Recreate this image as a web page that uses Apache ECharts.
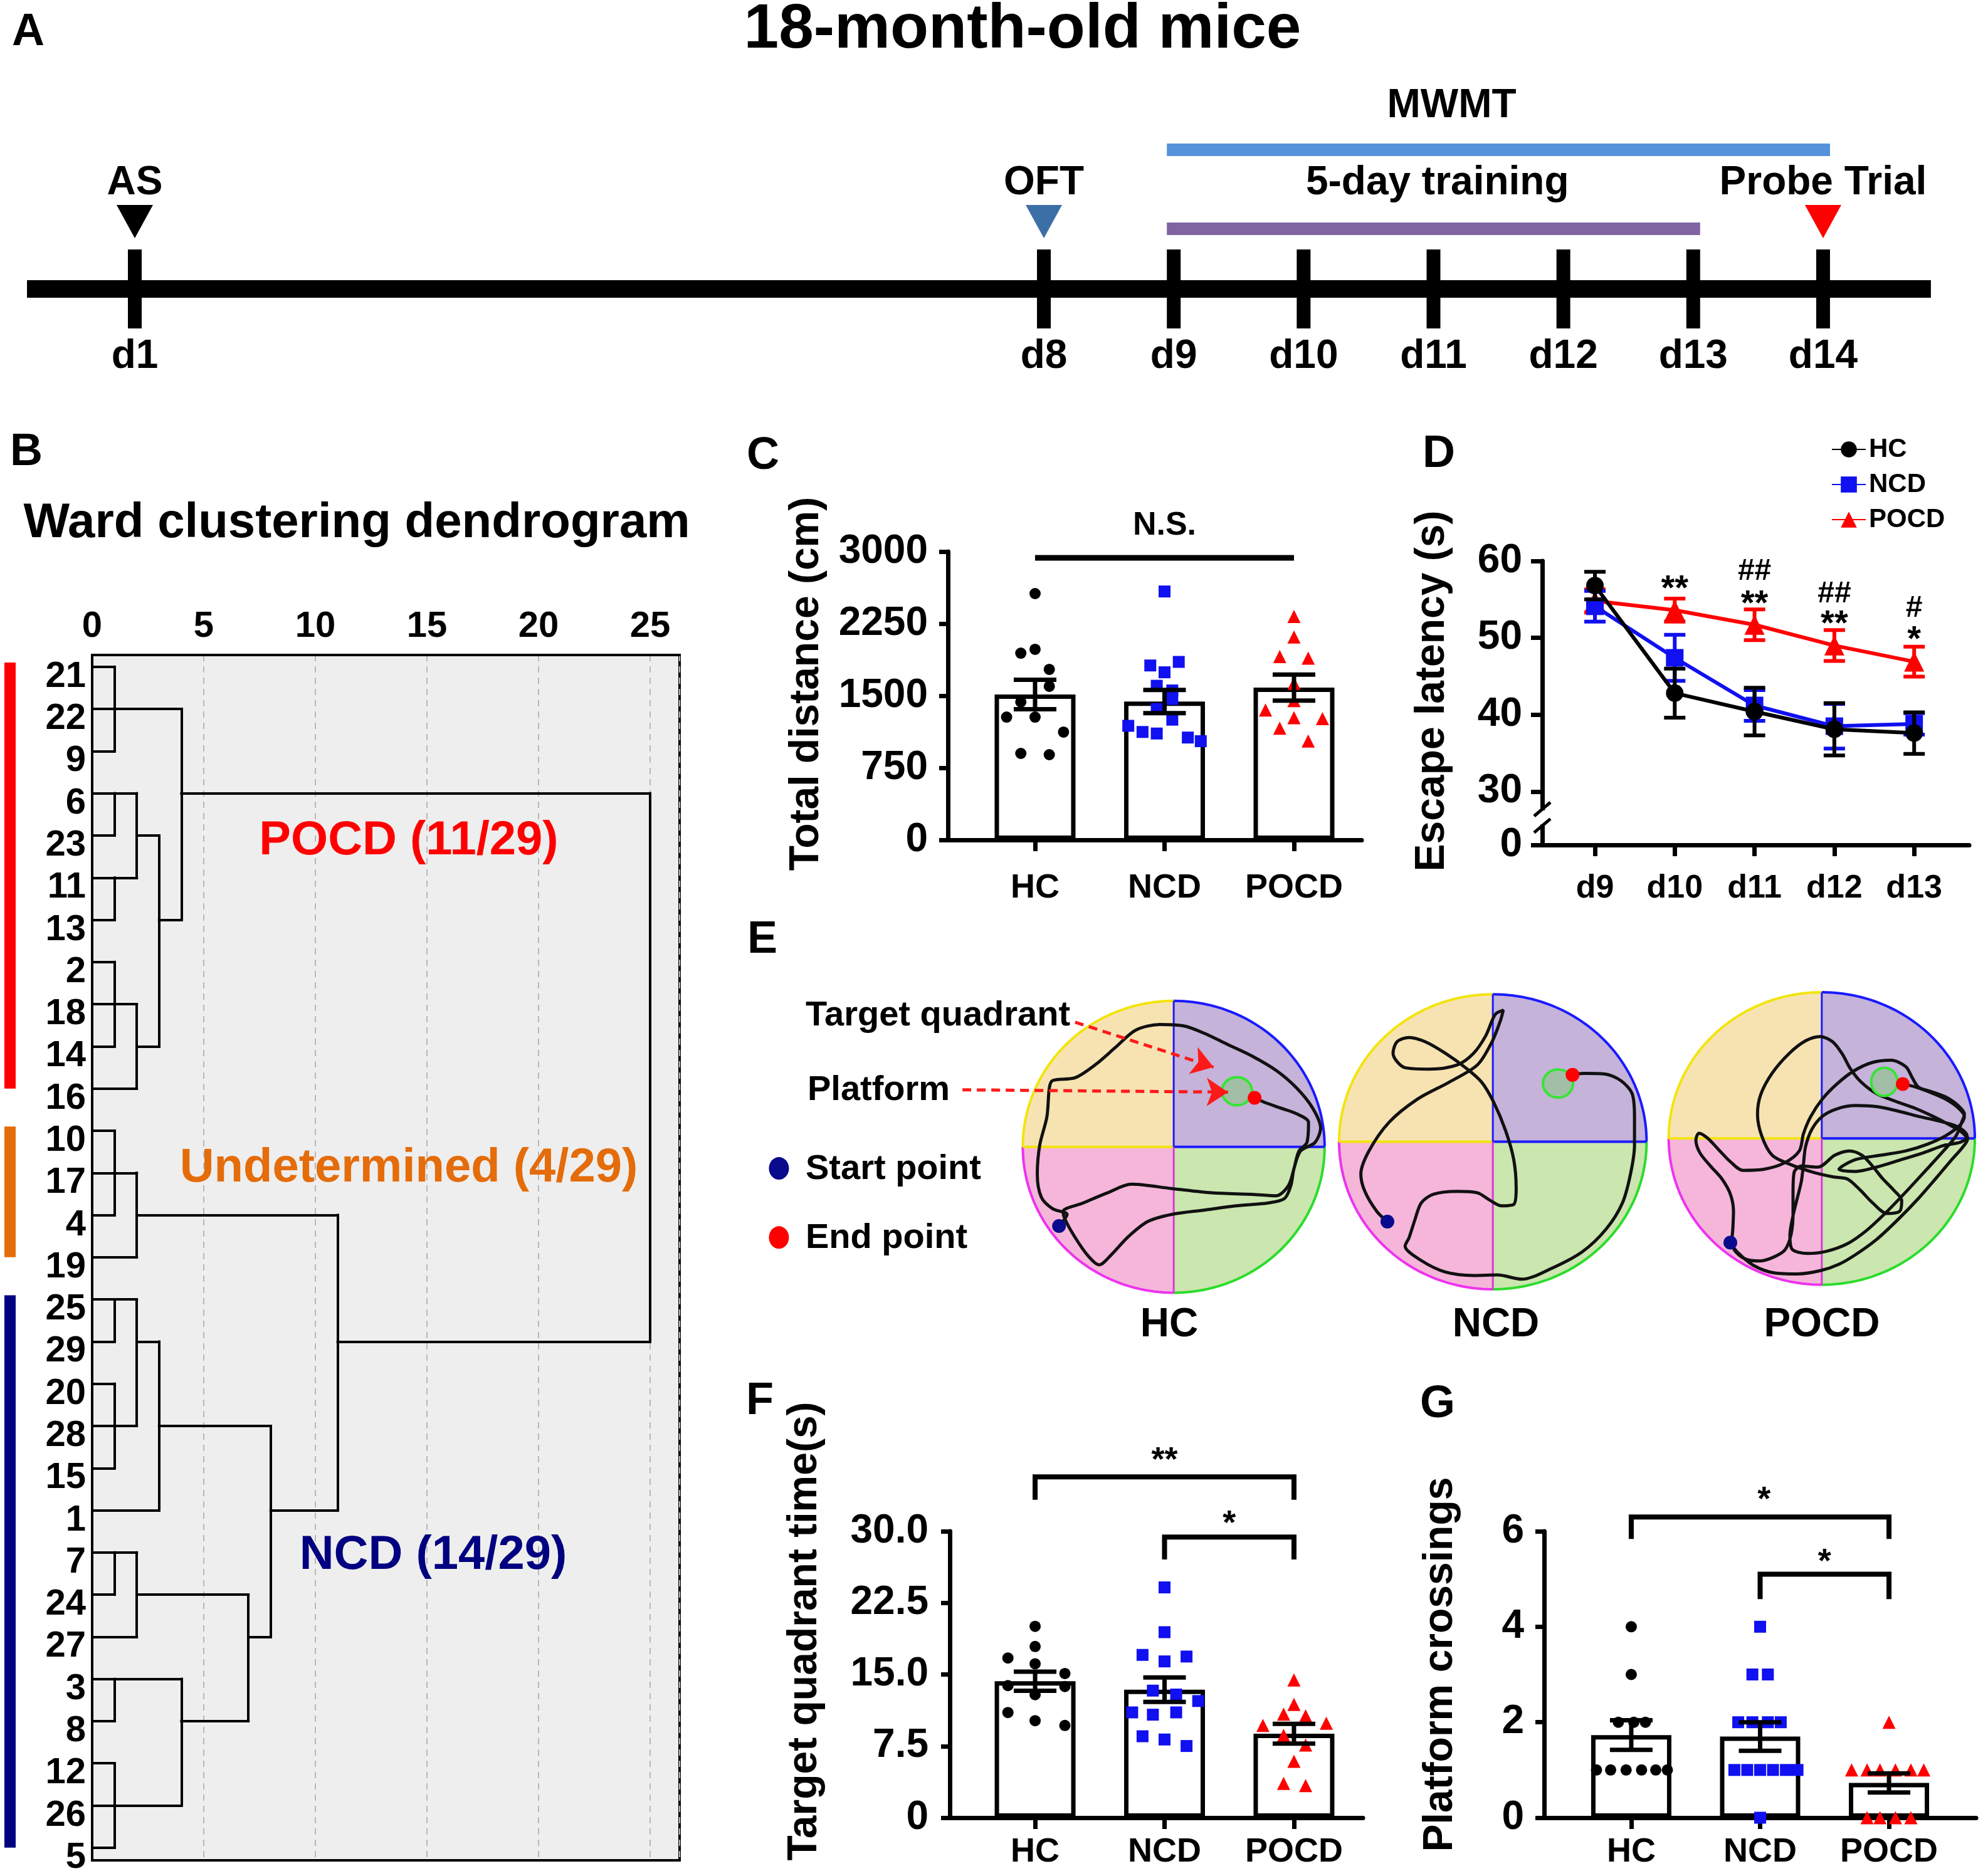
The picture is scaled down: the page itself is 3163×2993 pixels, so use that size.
<!DOCTYPE html>
<html>
<head>
<meta charset="utf-8">
<title>18-month-old mice</title>
<script src="https://cdn.jsdelivr.net/npm/echarts@6.0.0/dist/echarts.min.js"></script>
<style>
html,body{margin:0;padding:0;background:#ffffff;}
#chart{width:3163px;height:2993px;}
</style>
</head>
<body>
<div id="chart"></div>
<script>
const FONT = '"Liberation Sans", Arial, Helvetica, sans-serif';

// ===== Panel A : experimental timeline =====
const timelineDays = [1, 8, 9, 10, 11, 12, 13, 14];
const timelineDayLabels = ['d1', 'd8', 'd9', 'd10', 'd11', 'd12', 'd13', 'd14'];
const timelineSpan = [0.17, 14.83];
const eventNames = ['AS', 'OFT', 'Probe Trial'];
const eventDays = [1, 8, 14];
const phaseNames = ['MWMT', '5-day training'];
const phaseStartDays = [9, 9];
const phaseEndDays = [14, 13];
const phaseLabelDays = [11.14, 11.03];

// ===== Panel B : Ward clustering dendrogram =====
const leafLabels = ['21','22','9','6','23','11','13','2','18','14','16','10','17','4','19','25','29','20','28','15','1','7','24','27','3','8','12','26','5'];
// segments: [distance1, leafRow1, distance2, leafRow2]
const dendroSegments = [
  [0,0,1,0],[0,1,4,1],[0,2,1,2],[1,0,1,2],
  [0,3,2,3],[4,3,25,3],[0,4,1,4],[2,4,3,4],[1,3,1,4],
  [0,5,2,5],[0,6,1,6],[3,6,4,6],[1,5,1,6],[2,3,2,5],
  [0,7,1,7],[0,8,2,8],[0,9,1,9],[2,9,3,9],[0,10,2,10],[1,7,1,9],[2,8,2,10],
  [3,4,3,9],[4,1,4,6],
  [0,11,1,11],[0,12,2,12],[0,13,1,13],[2,13,11,13],[0,14,2,14],[1,11,1,13],[2,12,2,14],
  [11,13,11,20],
  [0,15,2,15],[0,16,1,16],[2,16,3,16],[11,16,25,16],[1,15,1,16],
  [0,17,1,17],[0,18,2,18],[3,18,8,18],[0,19,1,19],[1,17,1,19],[2,15,2,18],
  [0,20,3,20],[8,20,11,20],[3,16,3,20],
  [0,21,2,21],[0,22,1,22],[2,22,7,22],[0,23,2,23],[7,23,8,23],[1,21,1,22],[2,21,2,23],
  [8,18,8,23],
  [0,24,4,24],[0,25,1,25],[4,25,7,25],[1,24,1,25],
  [0,26,1,26],[0,27,4,27],[0,28,1,28],[1,26,1,28],[4,24,4,27],
  [7,22,7,25],
  [25,3,25,16]
];
const clusterNames = ['POCD (11/29)', 'Undetermined (4/29)', 'NCD (14/29)'];
const clusterFirstRow = [0, 11, 15];
const clusterLastRow = [10, 14, 28];

// ===== Shared groups =====
const groups = ['HC', 'NCD', 'POCD'];

// ===== Panel C : total distance (cm) =====
const distMean = [1513, 1440, 1585];
const distSem = [153, 121, 135];
const distHC = [2563, 1983, 1943, 1774, 1598, 1435, 1278, 1278, 1122, 900, 887];
const distHCx = [0, 0, -0.11, 0.11, 0.11, -0.11, -0.22, 0, 0.22, -0.11, 0.11];
const distNCD = [2585, 1852, 1815, 1744, 1604, 1555, 1466, 1362, 1251, 1187, 1123, 1107, 1065, 1027];
const distNCDx = [1, 1.11, 0.89, 1, 0.94, 1.06, 1.06, 0.94, 1.06, 0.72, 0.83, 0.94, 1.18, 1.28];
const distPOCD = [2325, 2111, 1908, 1892, 1629, 1450, 1351, 1271, 1262, 1162, 1028];
const distPOCDx = [2, 2, 1.89, 2.11, 2, 2, 1.78, 2, 2.22, 1.89, 2.11];

// ===== Panel D : escape latency (s) =====
const dayLabels = ['d9', 'd10', 'd11', 'd12', 'd13'];
const latencyHC = [56.8, 42.8, 40.4, 38.1, 37.6];
const latencyHCsem = [1.8, 3.2, 3.1, 3.4, 2.7];
const latencyNCD = [54.1, 47.4, 41.2, 38.5, 38.8];
const latencyNCDsem = [2.0, 3.0, 2.0, 2.9, 1.4];
const latencyPOCD = [54.8, 53.6, 51.7, 49.0, 46.9];
const latencyPOCDsem = [1.5, 1.5, 2.0, 2.0, 1.95];
const latencySigDay = [1, 2, 2, 3, 3, 4, 4];
const latencySigText = ['**', '##', '**', '##', '**', '#', '*'];
const latencySigValue = [57.3, 58.6, 55.3, 55.7, 52.7, 53.8, 50.7];
const latencyBreak = [25.55, 27.7];

// ===== Panel E : representative swim paths (each pool in its tracking-camera frame) =====
// HC and NCD pools share one frame; POCD pool has its own frame.
const poolsHcNcd = [[562.5, 805, 187.5, 507], [959, 787.5, 191, 512.5]];
const platformHcNcd = [[641, 612], [1040, 585]];
const startHcNcd = [[420, 1080], [828, 1065]];
const endHcNcd = [[663, 635], [1058, 555]];
const trackHC = [[420,1080],[430,1040],[412,1020],[398,980],[393,900],[396,800],[405,700],[408,600],[412,575],[440,565],[465,520],[490,460],[515,400],[545,380],[575,385],[600,410],[630,450],[660,490],[690,540],[715,600],[735,670],[745,740],[738,790],[720,820],[712,880],[708,940],[700,985],[680,1000],[640,1010],[600,1025],[560,1040],[530,1065],[505,1120],[485,1180],[470,1215],[455,1180],[440,1120],[428,1060],[425,1030],[450,1000],[480,965],[510,935],[560,950],[610,965],[660,970],[690,975],[705,940],[712,880],[718,820],[728,790],[730,720],[715,690],[695,670],[675,650],[663,635]];
const trackNCD = [[828,1065],[815,1030],[800,960],[795,900],[805,820],[830,720],[865,640],[905,580],[940,520],[958,440],[968,370],[972,330],[962,345],[950,420],[935,480],[915,520],[880,535],[850,530],[835,480],[840,440],[855,425],[875,440],[900,480],[925,530],[945,580],[960,650],[975,750],[985,850],[988,950],[985,1005],[970,1010],[955,990],[940,965],[915,960],[885,970],[870,1000],[862,1060],[855,1120],[850,1150],[870,1200],[900,1240],[935,1252],[965,1250],[995,1265],[1030,1230],[1070,1170],[1100,1090],[1120,1000],[1130,900],[1135,800],[1135,700],[1132,620],[1118,575],[1098,552],[1072,550],[1058,555]];
const poolPOCD = [[797.5, 802.5, 732.5, 677.5]];
const platformPOCD = [[1097, 540]];
const startPOCD = [[360, 1285]];
const endPOCD = [[1185, 550]];
const trackPOCD = [[360,1285],[395,1330],[470,1390],[570,1425],[680,1430],[790,1415],[880,1385],[960,1340],[1060,1270],[1160,1180],[1260,1080],[1350,980],[1420,900],[1470,845],[1495,805],[1485,775],[1440,745],[1360,722],[1260,700],[1160,675],[1060,655],[960,650],[870,665],[800,700],[750,760],[720,840],[710,920],[700,1000],[680,1080],[660,1160],[645,1250],[655,1315],[730,1335],[820,1325],[920,1290],[1010,1230],[1100,1150],[1200,1050],[1300,945],[1380,860],[1440,790],[1470,720],[1480,690],[1450,650],[1390,610],[1320,585],[1260,565],[1230,520],[1200,470],[1130,440],[1040,450],[950,490],[870,550],[800,620],[745,700],[710,780],[690,860],[620,915],[520,945],[420,950],[360,910],[300,850],[250,800],[210,778],[195,810],[215,870],[265,930],[320,990],[360,1060],[375,1140],[372,1220],[368,1270],[380,1320],[430,1360],[500,1370],[560,1355],[620,1320],[650,1250],[660,1150],[660,1050],[665,960],[700,930],[780,935],[860,880],[930,860],[990,880],[1040,930],[1090,990],[1140,1040],[1180,1090],[1170,1140],[1110,1150],[1040,1100],[980,1040],[920,990],[850,980],[760,960],[640,920],[560,880],[510,790],[490,690],[505,600],[560,500],[640,410],[720,350],[790,330],[850,355],[895,410],[935,480],[985,540],[1060,595],[1150,630],[1250,665],[1330,700],[1400,735],[1470,775],[1490,800],[1460,820],[1380,835],[1280,870],[1180,900],[1060,935],[960,955],[880,945],[960,900],[1080,880],[1200,860],[1300,830],[1390,790],[1460,740],[1480,700],[1450,660],[1390,620],[1320,590],[1250,565],[1185,550]];
const legendStartPt = [[72, 880]];
const legendEndPt = [[72, 1120]];
const arrowTarget = [[440, 372], [612, 528]];
const arrowPlatform = [[300, 607], [630, 615]];

// ===== Panel F : target quadrant time (s) =====
const timeMean = [14.3, 13.4, 8.8];
const timeSem = [1.0, 1.28, 1.03];
const timeHC = [20.04, 17.93, 16.73, 16.12, 15.1, 13.84, 13.74, 12.89, 11.02, 10.16, 9.66];
const timeHCx = [0, 0, -0.21, 0, 0.23, -0.21, 0.23, 0, -0.21, 0, 0.23];
const timeNCD = [24.12, 19.43, 17.05, 16.88, 16.37, 13.31, 12.9, 12.22, 11.03, 10.79, 11.03, 8.53, 8.19, 7.51];
const timeNCDx = [1, 1, 0.83, 1.17, 1, 0.91, 1.09, 1.26, 0.75, 0.91, 1.09, 0.83, 1, 1.17];
const timePOCD = [14.42, 11.87, 10.85, 10.67, 9.66, 9.9, 8.63, 7.62, 5.91, 3.6, 3.36];
const timePOCDx = [2, 2, 1.92, 2.09, 1.76, 2.25, 1.92, 2.09, 2, 1.92, 2.09];
const timeBracketFrom = [0, 1];
const timeBracketTo = [2, 2];
const timeBracketTop = [35.7, 29.4];
const timeBracketLeg = [33.3, 27.05];
const timeBracketText = ['**', '*'];
const timeBracketTextX = [1, 1.5];
const timeBracketTextY = [38.1, 31.5];

// ===== Panel G : platform crossings =====
const crossMean = [1.73, 1.7, 0.73];
const crossSem = [0.31, 0.3, 0.2];
const crossHC = [4, 3, 2, 2, 2, 1, 1, 1, 1, 1, 1];
const crossHCx = [0, 0, -0.1, 0.02, 0.11, -0.27, -0.16, -0.04, 0.08, 0.19, 0.28];
const crossNCD = [4, 3, 3, 2, 2, 2, 2, 1, 1, 1, 1, 1, 1, 0];
const crossNCDx = [1, 0.94, 1.06, 0.83, 0.94, 1.06, 1.16, 0.8, 0.9, 1, 1.1, 1.2, 1.29, 1];
const crossPOCD = [2, 1, 1, 1, 1, 1, 1, 0, 0, 0, 0];
const crossPOCDx = [2, 1.71, 1.83, 1.93, 2.05, 2.17, 2.27, 1.83, 1.93, 2.05, 2.17];
const crossBracketFrom = [0, 1];
const crossBracketTo = [2, 2];
const crossBracketTop = [6.3, 5.1];
const crossBracketLeg = [5.84, 4.58];
const crossBracketText = ['*', '*'];
const crossBracketTextX = [1.03, 1.5];
const crossBracketTextY = [6.8, 5.5];

// ===== styles =====
const BLACK = '#000000', BLUE = '#1010f0', RED = '#ff0000', NAVY = '#0a0a8c';
const eventColors = ['#000000', '#3d6fa7', '#ff0000'];
const phaseColors = ['#5592db', '#8064a2'];
const clusterColors = ['#ff0000', '#e46c0a', '#000080'];

function textEl(x, y, text, size, color, align, vAlign) {
  return {type: 'text', x: x, y: y, style: {text: text, fontSize: size, fontWeight: 'bold', fontFamily: FONT,
    fill: color || BLACK, align: align || 'center', verticalAlign: vAlign || 'middle'}};
}
function starShift(t, size) { return t.indexOf('*') >= 0 ? size * 0.22 : 0; }

const axisLine7 = {color: BLACK, width: 7};
function catXAxis(grid, min, max, labels, fontSize, margin) {
  const vals = labels.map((l, i) => i);
  return {gridIndex: grid, type: 'value', min: min, max: max,
    axisLine: {show: true, onZero: false, lineStyle: axisLine7},
    axisTick: {show: true, customValues: vals, length: 18, lineStyle: axisLine7},
    axisLabel: {show: true, customValues: vals, formatter: v => labels[Math.round(v)], fontSize: fontSize,
      fontWeight: 'bold', fontFamily: FONT, color: BLACK, margin: margin},
    splitLine: {show: false}};
}
function valYAxis(grid, opts) {
  return Object.assign({gridIndex: grid, type: 'value',
    axisLine: {show: true, onZero: false, lineStyle: axisLine7},
    axisTick: {show: true, length: 14, lineStyle: axisLine7},
    axisLabel: {formatter: v => String(v), fontSize: 64, fontWeight: 'bold', fontFamily: FONT, color: BLACK, margin: 32},
    splitLine: {show: false}, nameLocation: 'middle', nameMoveOverlap: false,
    nameTextStyle: {fontSize: 66, fontWeight: 'bold', fontFamily: FONT, color: BLACK, lineHeight: 70,
      padding: [0, 0, 0, opts.namePad || 0]}}, opts);
}

function errorBars(name, axisIdx, xs, means, sems, capPx, color, z, lw) {
  return {type: 'custom', name: name, xAxisIndex: axisIdx, yAxisIndex: axisIdx, clip: false, silent: true, z: z,
    data: means.map((m, i) => [xs[i], m - sems[i], m + sems[i]]),
    renderItem: function (params, api) {
      const x = api.value(0);
      const lo = api.coord([x, api.value(1)]), hi = api.coord([x, api.value(2)]);
      const st = {stroke: color, lineWidth: lw || 7};
      return {type: 'group', children: [
        {type: 'line', shape: {x1: lo[0], y1: lo[1], x2: hi[0], y2: hi[1]}, style: st},
        {type: 'line', shape: {x1: lo[0] - capPx / 2, y1: lo[1], x2: lo[0] + capPx / 2, y2: lo[1]}, style: st},
        {type: 'line', shape: {x1: hi[0] - capPx / 2, y1: hi[1], x2: hi[0] + capPx / 2, y2: hi[1]}, style: st}
      ]};
    }};
}
function pointsSeries(name, axisIdx, xs, vals, symbol, size, color) {
  return {type: 'scatter', name: name, xAxisIndex: axisIdx, yAxisIndex: axisIdx, silent: true, z: 3,
    data: vals.map((v, i) => [xs[i], v]), symbol: symbol, symbolSize: size, itemStyle: {color: color, opacity: 1}};
}
function barsSeries(name, axisIdx, means, width) {
  return {type: 'bar', name: name, xAxisIndex: axisIdx, yAxisIndex: axisIdx, silent: true, z: 2, barWidth: width,
    data: means.map((m, i) => [i, m]), itemStyle: {color: '#ffffff', borderColor: BLACK, borderWidth: 7}};
}
function bracketSeries(name, axisIdx, from, to, top, leg, texts, tx, ty, fontSize, lw) {
  return {type: 'custom', name: name, xAxisIndex: axisIdx, yAxisIndex: axisIdx, clip: false, silent: true, z: 6,
    data: from.map((f, i) => [f, to[i], top[i], leg[i], tx[i], ty[i]]),
    renderItem: function (params, api) {
      const i = params.dataIndex;
      const a = api.coord([api.value(0), api.value(2)]), b = api.coord([api.value(1), api.value(2)]);
      const la = api.coord([api.value(0), api.value(3)]), lb = api.coord([api.value(1), api.value(3)]);
      const t = api.coord([api.value(4), api.value(5)]);
      return {type: 'group', children: [
        {type: 'polyline', shape: {points: [[la[0], la[1]], [a[0], a[1]], [b[0], b[1]], [lb[0], lb[1]]]},
          style: {fill: null, stroke: BLACK, lineWidth: lw, lineJoin: 'miter'}},
        textEl(t[0], t[1] + starShift(texts[i], fontSize), texts[i], fontSize, BLACK)
      ]};
    }};
}
function poolSeries(name, axisIdx, data) {
  return {type: 'custom', name: name, xAxisIndex: axisIdx, yAxisIndex: axisIdx, clip: false, silent: true, z: 1,
    data: data,
    renderItem: function (params, api) {
      const c = api.coord([api.value(0), api.value(1)]);
      const s = api.size([api.value(2) * 2, api.value(3) * 2]);
      const rx = s[0] / 2, ry = s[1] / 2;
      const arcPts = function (a0, a1) {
        const pts = [];
        for (let k = 0; k <= 48; k++) {
          const a = a0 + (a1 - a0) * k / 48;
          pts.push([c[0] + rx * Math.cos(a), c[1] - ry * Math.sin(a)]);
        }
        return pts;
      };
      const quads = [
        [0, Math.PI / 2, '#c5b3da', '#1a1aff'],
        [Math.PI / 2, Math.PI, '#f7e3b2', '#f2e40c'],
        [Math.PI, 1.5 * Math.PI, '#f5b6da', '#ee33ee'],
        [1.5 * Math.PI, 2 * Math.PI, '#cbe6ae', '#2bdc2b']
      ];
      const children = [];
      quads.forEach(q => children.push({type: 'polygon', shape: {points: [[c[0], c[1]]].concat(arcPts(q[0], q[1]))}, style: {fill: q[2]}}));
      quads.forEach(q => children.push({type: 'polyline', shape: {points: arcPts(q[0], q[1])}, style: {stroke: q[3], lineWidth: 4, fill: null}}));
      children.push({type: 'line', shape: {x1: c[0] - rx, y1: c[1], x2: c[0], y2: c[1]}, style: {stroke: '#f2e40c', lineWidth: 4}});
      children.push({type: 'line', shape: {x1: c[0], y1: c[1], x2: c[0] + rx, y2: c[1]}, style: {stroke: '#1a1aff', lineWidth: 4}});
      children.push({type: 'line', shape: {x1: c[0], y1: c[1] - ry, x2: c[0], y2: c[1]}, style: {stroke: '#1a1aff', lineWidth: 3}});
      children.push({type: 'line', shape: {x1: c[0], y1: c[1], x2: c[0], y2: c[1] + ry}, style: {stroke: '#d63ad6', lineWidth: 3}});
      return {type: 'group', children: children};
    }};
}
function trackSeries(name, axisIdx, data) {
  return {type: 'line', name: name, xAxisIndex: axisIdx, yAxisIndex: axisIdx, data: data, showSymbol: false, symbol: 'none',
    smooth: 0.3, silent: true, z: 2, lineStyle: {color: '#111111', width: 5}};
}
function dotSeries(name, axisIdx, data, size, color, border) {
  const st = {color: color, opacity: 1};
  if (border) { st.borderColor = border; st.borderWidth = 4; }
  return {type: 'scatter', name: name, xAxisIndex: axisIdx, yAxisIndex: axisIdx, data: data, silent: true, z: border ? 3 : 4,
    symbol: 'circle', symbolSize: size, itemStyle: st};
}

const gridBase = {outerBoundsMode: 'none', containLabel: false};
const grids = [
  Object.assign({left: 7.85, top: 447, width: 3107.25, height: 28}, gridBase),
  Object.assign({left: 147, top: 1045, width: 937, height: 1923, show: true, backgroundColor: '#eeeeee', borderColor: BLACK, borderWidth: 4}, gridBase),
  Object.assign({left: 1512, top: 880, width: 660, height: 460}, gridBase),
  Object.assign({left: 2460, top: 895, width: 681, height: 453}, gridBase),
  Object.assign({left: 1150, top: 1460, width: 2013, height: 720}, gridBase),
  Object.assign({left: 1515, top: 2443, width: 659, height: 457}, gridBase),
  Object.assign({left: 2463, top: 2443, width: 689, height: 457}, gridBase),
  Object.assign({left: 2640, top: 1540, width: 523, height: 540}, gridBase)
];

const xAxes = [
  {gridIndex: 0, type: 'value', min: 0, max: 15, show: false},
  {gridIndex: 1, type: 'value', position: 'top', min: 0, max: 26.32, interval: 5,
    axisLine: {show: true, onZero: false, lineStyle: {color: BLACK, width: 4}}, axisTick: {show: false},
    axisLabel: {fontSize: 58, fontWeight: 'bold', fontFamily: FONT, color: BLACK, margin: 16},
    splitLine: {show: true, showMinLine: false, lineStyle: {color: '#b8b8b8', width: 2, type: [10, 8]}}},
  catXAxis(2, -0.673, 2.523, groups, 54, 50),
  catXAxis(3, -0.66, 4.69, dayLabels, 52, 44),
  {gridIndex: 4, type: 'value', min: 0, max: 1568, show: false},
  catXAxis(5, -0.659, 2.533, groups, 54, 28),
  catXAxis(6, -0.676, 2.676, groups, 54, 28),
  {gridIndex: 7, type: 'value', min: 0, max: 1569, show: false}
];
const latencyMin = 23.05;
const yAxes = [
  {gridIndex: 0, type: 'value', min: -1, max: 1, show: false},
  {gridIndex: 1, type: 'value', min: -0.28, max: 28.3, inverse: true, show: false},
  valYAxis(2, {min: 0, max: 3000, interval: 750, name: 'Total distance (cm)', nameGap: 190, namePad: 38}),
  valYAxis(3, {min: latencyMin, max: 60, name: 'Escape latency (s)', nameGap: 140, namePad: 38,
    axisTick: {show: true, length: 18, customValues: [latencyMin, 30, 40, 50, 60], lineStyle: axisLine7},
    axisLabel: {customValues: [latencyMin, 30, 40, 50, 60], formatter: v => (v < 29 ? '0' : String(v)),
      fontSize: 64, fontWeight: 'bold', fontFamily: FONT, color: BLACK, margin: 32}}),
  {gridIndex: 4, type: 'value', min: 0, max: 1568, inverse: true, show: false},
  valYAxis(5, {min: 0, max: 30, interval: 7.5, name: 'Target quadrant time(s)', nameGap: 196, namePad: 138,
    axisLabel: {formatter: v => (v === 0 ? '0' : v.toFixed(1)), fontSize: 64, fontWeight: 'bold', fontFamily: FONT, color: BLACK, margin: 34}}),
  valYAxis(6, {min: 0, max: 6, interval: 2, name: 'Platform crossings', nameGap: 130, namePad: 32}),
  {gridIndex: 7, type: 'value', min: 0, max: 1568, inverse: true, show: false}
];

const series = [];

// ---- A
series.push({type: 'custom', name: 'timeline', xAxisIndex: 0, yAxisIndex: 0, clip: false, silent: true, z: 2,
  data: [timelineSpan],
  renderItem: function (params, api) {
    const a = api.coord([api.value(0), 0]), b = api.coord([api.value(1), 0]);
    return {type: 'rect', shape: {x: a[0], y: a[1] - 14, width: b[0] - a[0], height: 28}, style: {fill: BLACK}};
  }});
series.push({type: 'custom', name: 'timelineDays', xAxisIndex: 0, yAxisIndex: 0, clip: false, silent: true, z: 3,
  data: timelineDays.map(d => [d, 0]),
  renderItem: function (params, api) {
    const p = api.coord([api.value(0), 0]);
    return {type: 'group', children: [
      {type: 'rect', shape: {x: p[0] - 11, y: p[1] - 63, width: 22, height: 126}, style: {fill: BLACK}},
      textEl(p[0], p[1] + 108, timelineDayLabels[params.dataIndex], 64, BLACK)
    ]};
  }});
series.push({type: 'custom', name: 'timelineEvents', xAxisIndex: 0, yAxisIndex: 0, clip: false, silent: true, z: 3,
  data: eventDays.map(d => [d, 0]),
  renderItem: function (params, api) {
    const p = api.coord([api.value(0), 0]);
    const i = params.dataIndex;
    return {type: 'group', children: [
      {type: 'polygon', shape: {points: [[p[0] - 29, p[1] - 134], [p[0] + 29, p[1] - 134], [p[0], p[1] - 81]]}, style: {fill: eventColors[i]}},
      textEl(p[0], p[1] - 169, eventNames[i], 64, BLACK)
    ]};
  }});
series.push({type: 'custom', name: 'timelinePhases', xAxisIndex: 0, yAxisIndex: 0, clip: false, silent: true, z: 3,
  data: phaseStartDays.map((s, i) => [s, phaseEndDays[i], phaseLabelDays[i]]),
  renderItem: function (params, api) {
    const i = params.dataIndex;
    const a = api.coord([api.value(0), 0]), b = api.coord([api.value(1), 0]), l = api.coord([api.value(2), 0]);
    const barY = i === 0 ? -222 : -96;
    const labY = i === 0 ? -292 : -169;
    return {type: 'group', children: [
      {type: 'rect', shape: {x: a[0] - 11, y: a[1] + barY - 10, width: b[0] - a[0] + 22, height: 20}, style: {fill: phaseColors[i]}},
      textEl(l[0], l[1] + labY, phaseNames[i], 64, BLACK)
    ]};
  }});

// ---- B
series.push({type: 'custom', name: 'clusterBars', xAxisIndex: 1, yAxisIndex: 1, clip: false, silent: true, z: 3,
  data: clusterFirstRow.map((r, i) => [0, r, clusterLastRow[i]]),
  renderItem: function (params, api) {
    const a = api.coord([0, api.value(1) - 0.1]), b = api.coord([0, api.value(2)]);
    return {type: 'rect', shape: {x: 7, y: a[1], width: 18, height: b[1] - a[1]}, style: {fill: clusterColors[params.dataIndex]}};
  }});
series.push({type: 'lines', name: 'dendrogram', coordinateSystem: 'cartesian2d', xAxisIndex: 1, yAxisIndex: 1,
  polyline: false, silent: true, z: 5, lineStyle: {color: BLACK, width: 4, opacity: 1, cap: 'square'},
  data: dendroSegments.map(s => ({coords: [[s[0], s[1]], [s[2], s[3]]]}))});
series.push({type: 'custom', name: 'leafLabels', xAxisIndex: 1, yAxisIndex: 1, clip: false, silent: true, z: 5,
  data: leafLabels.map((l, i) => [0, i]),
  renderItem: function (params, api) {
    const p = api.coord([0, api.value(1)]);
    return textEl(p[0] - 10, p[1] + 16, leafLabels[params.dataIndex], 58, BLACK, 'right');
  }});

// ---- C
series.push(barsSeries('C-bars', 2, distMean, 129));
series.push(pointsSeries('C-HC', 2, distHCx, distHC, 'circle', 18, BLACK));
series.push(pointsSeries('C-NCD', 2, distNCDx, distNCD, 'rect', 19, BLUE));
series.push(pointsSeries('C-POCD', 2, distPOCDx, distPOCD, 'triangle', 21, RED));
series.push(errorBars('C-sem', 2, [0, 1, 2], distMean, distSem, 68, BLACK, 4));
series.push(bracketSeries('C-ns', 2, [0], [2], [2935], [2935], ['N.S.'], [1], [3268], 52, 9));

// ---- D
const dSets = [
  ['POCD', latencyPOCD, latencyPOCDsem, 'triangle', RED, 32],
  ['NCD', latencyNCD, latencyNCDsem, 'rect', BLUE, 28],
  ['HC', latencyHC, latencyHCsem, 'circle', BLACK, 28]
];
dSets.forEach((s, k) => {
  series.push(errorBars('D-sem-' + s[0], 3, [0, 1, 2, 3, 4], s[1], s[2], 34, s[4], 3 + k * 2, 6));
  series.push({type: 'line', name: s[0], xAxisIndex: 3, yAxisIndex: 3, z: 4 + k * 2, silent: true,
    data: s[1].map((v, i) => [i, v]), symbol: s[3], symbolSize: s[5], showSymbol: true,
    lineStyle: {color: s[4], width: 6}, itemStyle: {color: s[4], opacity: 1}});
});
series.push({type: 'custom', name: 'D-sig', xAxisIndex: 3, yAxisIndex: 3, clip: false, silent: true, z: 10,
  data: latencySigDay.map((d, i) => [d, latencySigValue[i]]),
  renderItem: function (params, api) {
    const t = latencySigText[params.dataIndex];
    const size = t.indexOf('*') >= 0 ? 56 : 48;
    const p = api.coord([api.value(0), api.value(1)]);
    return textEl(p[0], p[1] + starShift(t, size), t, size, BLACK);
  }});
series.push({type: 'custom', name: 'D-break', xAxisIndex: 3, yAxisIndex: 3, clip: false, silent: true, z: 10,
  data: [[-0.66, latencyBreak[0], latencyBreak[1]]],
  renderItem: function (params, api) {
    const top = api.coord([api.value(0), api.value(2)]);
    const bot = api.coord([api.value(0), api.value(1)]);
    const x = top[0];
    const st = {stroke: BLACK, lineWidth: 5};
    return {type: 'group', children: [
      {type: 'rect', shape: {x: x - 8, y: top[1] + 2, width: 16, height: bot[1] - top[1] - 4}, style: {fill: '#ffffff'}},
      {type: 'line', shape: {x1: x - 13, y1: top[1] + 11, x2: x + 13, y2: top[1] - 11}, style: st},
      {type: 'line', shape: {x1: x - 13, y1: bot[1] + 11, x2: x + 13, y2: bot[1] - 11}, style: st}
    ]};
  }});

// ---- E (HC & NCD frame: axis 4; POCD frame: axis 7)
series.push(poolSeries('E-pools', 4, poolsHcNcd));
series.push(trackSeries('E-track-HC', 4, trackHC));
series.push(trackSeries('E-track-NCD', 4, trackNCD));
series.push(dotSeries('E-platform', 4, platformHcNcd, [48, 45], '#a2bea6', '#33e633'));
series.push(dotSeries('E-end', 4, endHcNcd, [22, 22], RED));
series.push(dotSeries('E-start', 4, startHcNcd, [22, 22], NAVY));
series.push(poolSeries('E-pool-POCD', 7, poolPOCD));
series.push(trackSeries('E-track-POCD', 7, trackPOCD));
series.push(dotSeries('E-platform-POCD', 7, platformPOCD, [42, 45], '#a2bea6', '#33e633'));
series.push(dotSeries('E-end-POCD', 7, endPOCD, [22, 22], RED));
series.push(dotSeries('E-start-POCD', 7, startPOCD, [22, 22], NAVY));
series.push(dotSeries('E-key-start', 4, legendStartPt, [32, 36], NAVY));
series.push(dotSeries('E-key-end', 4, legendEndPt, [32, 36], RED));
series.push({type: 'lines', name: 'E-arrows', coordinateSystem: 'cartesian2d', xAxisIndex: 4, yAxisIndex: 4, silent: true, z: 6,
  symbol: ['none', 'arrow'], symbolSize: 34, polyline: false,
  lineStyle: {color: '#ff1a1a', width: 5, type: [14, 9], opacity: 1},
  data: [{coords: arrowTarget}, {coords: arrowPlatform}]});

// ---- F
series.push(barsSeries('F-bars', 5, timeMean, 129));
series.push(pointsSeries('F-HC', 5, timeHCx, timeHC, 'circle', 18, BLACK));
series.push(pointsSeries('F-NCD', 5, timeNCDx, timeNCD, 'rect', 19, BLUE));
series.push(pointsSeries('F-POCD', 5, timePOCDx, timePOCD, 'triangle', 21, RED));
series.push(errorBars('F-sem', 5, [0, 1, 2], timeMean, timeSem, 68, BLACK, 4));
series.push(bracketSeries('F-sig', 5, timeBracketFrom, timeBracketTo, timeBracketTop, timeBracketLeg,
  timeBracketText, timeBracketTextX, timeBracketTextY, 54, 8));

// ---- G
series.push(barsSeries('G-bars', 6, crossMean, 128));
series.push(pointsSeries('G-HC', 6, crossHCx, crossHC, 'circle', 18, BLACK));
series.push(pointsSeries('G-NCD', 6, crossNCDx, crossNCD, 'rect', 19, BLUE));
series.push(pointsSeries('G-POCD', 6, crossPOCDx, crossPOCD, 'triangle', 21, RED));
series.push(errorBars('G-sem', 6, [0, 1, 2], crossMean, crossSem, 68, BLACK, 4));
series.push(bracketSeries('G-sig', 6, crossBracketFrom, crossBracketTo, crossBracketTop, crossBracketLeg,
  crossBracketText, crossBracketTextX, crossBracketTextY, 54, 8));

// ---- free text (titles, panel letters, annotations)
const labels = [
  ['A', 45, 52, 72], ['B', 42, 722, 72], ['C', 1217, 728, 72], ['D', 2295, 725, 72],
  ['E', 1216, 1500, 72], ['F', 1212, 2236, 72], ['G', 2293, 2241, 72],
  ['18-month-old mice', 1631, 48, 100],
  ['Ward clustering dendrogram', 569, 835, 78],
  [clusterNames[0], 652, 1342, 76, clusterColors[0]],
  [clusterNames[1], 652, 1864, 76, clusterColors[1]],
  [clusterNames[2], 691, 2482, 76, clusterColors[2]],
  ['Target quadrant', 1285, 1621, 56, BLACK, 'left'],
  ['Platform', 1288, 1740, 56, BLACK, 'left'],
  ['Start point', 1285, 1866, 56, BLACK, 'left'],
  ['End point', 1285, 1976, 56, BLACK, 'left'],
  [groups[0], 1865, 2114, 64], [groups[1], 2386, 2114, 64], [groups[2], 2906, 2114, 64]
];
const graphic = labels.map(l => ({type: 'text', x: l[1], y: l[2], z: 100, silent: true,
  style: {text: l[0], fontSize: l[3], fontWeight: 'bold', fontFamily: FONT, fill: l[4] || BLACK,
    align: l[5] || 'center', verticalAlign: 'middle'}}));

const chart = echarts.init(document.getElementById('chart'), null, {width: 3163, height: 2993, renderer: 'canvas'});
chart.setOption({
  animation: false,
  backgroundColor: '#ffffff',
  textStyle: {fontFamily: FONT},
  grid: grids,
  xAxis: xAxes,
  yAxis: yAxes,
  legend: {show: true, data: ['HC', 'NCD', 'POCD'], orient: 'vertical', left: 2916, top: 686,
    itemWidth: 54, itemHeight: 32, itemGap: 4, selectedMode: false,
    textStyle: {fontSize: 42, fontWeight: 'bold', fontFamily: FONT, color: BLACK, lineHeight: 52}},
  series: series,
  graphic: graphic
});
</script>
</body>
</html>
